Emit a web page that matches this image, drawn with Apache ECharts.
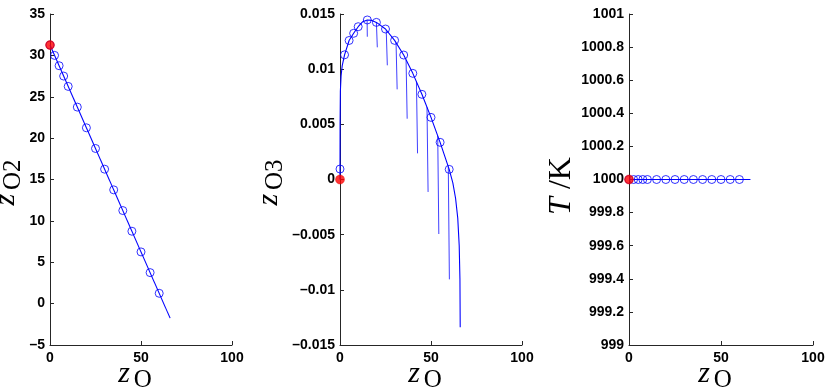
<!DOCTYPE html>
<html>
<head>
<meta charset="utf-8">
<script src="https://cdn.jsdelivr.net/npm/echarts@6/dist/echarts.min.js"></script>
<style>
html, body { margin: 0; padding: 0; background: #fff; }
#main { width: 830px; height: 390px; }
</style>
</head>
<body>
<div id="main"></div>
<script>
// sampled states (open circles)
const markZO = [0, 2.5, 5, 7.5, 10, 15, 20, 25, 30, 35, 40, 45, 50, 55, 60];
const markZO2 = [31.25, 30, 28.75, 27.5, 26.25, 23.75, 21.25, 18.75, 16.25, 13.75, 11.25, 8.75, 6.25, 3.75, 1.25];
const markZO3 = [0.00095, 0.0113, 0.0126, 0.01325, 0.01385, 0.01446, 0.01424, 0.01364, 0.01261, 0.01128, 0.00962, 0.00772, 0.00563, 0.00337, 0.00092];
const markT = [1000, 1000, 1000, 1000, 1000, 1000, 1000, 1000, 1000, 1000, 1000, 1000, 1000, 1000, 1000];

// continuous trajectories
const lineZO2x = [0, 66];
const lineZO2y = [31.25, -1.75];
const curveZOx = [0, 0, 0.05, 0.2, 0.6, 1.2, 2.5, 5, 7.5, 10, 12.5, 15, 17.5, 20, 25, 30, 35, 40, 45, 50, 55, 60, 62, 63.5, 64.7, 65.5, 65.9, 66.05];
const curveZO3y = [0, 0.001, 0.005, 0.008, 0.0094, 0.0103, 0.0113, 0.0126, 0.01325, 0.01385, 0.0143, 0.01446, 0.01442, 0.01424, 0.01364, 0.01261, 0.01128, 0.00962, 0.00772, 0.00563, 0.00337, 0.00092, -0.0003, -0.0017, -0.0035, -0.006, -0.009, -0.0134];
const lineTx = [0, 66];
const lineTy = [1000, 1000];

// short branches hanging off the z_O3 curve
const branchX0 = [14.9, 20.0, 25.4, 30.8, 36.3, 42.0, 47.8, 53.7, 59.5];
const branchY0 = [0.0144, 0.01424, 0.01356, 0.0124, 0.01085, 0.00886, 0.00655, 0.00396, 0.00116];
const branchX1 = [15.0, 20.5, 26.0, 31.4, 36.9, 42.6, 48.4, 54.3, 60.1];
const branchY1 = [0.01294, 0.01198, 0.01035, 0.00817, 0.00551, 0.00237, -0.00113, -0.00494, -0.00905];

// initial state (red dot)
const startZO = 0;
const startZO2 = 31.25;
const startZO3 = 0;
const startT = 1000;

const pairs = (xs, ys) => xs.map((x, i) => [x, ys[i]]);

const axisColor = '#262626';
const serif = 'Liberation Serif';
const tickFont = { fontWeight: 'bold', fontSize: 14, color: '#000', fontFamily: 'Liberation Sans' };

function xAx(idx) {
    return {
        type: 'value', gridIndex: idx, min: 0, max: 100, interval: 50,
        axisLine: { show: true, onZero: false, lineStyle: { color: axisColor } },
        axisTick: { show: true, inside: true, length: 4, lineStyle: { color: axisColor } },
        axisLabel: Object.assign({ margin: 6 }, tickFont),
        splitLine: { show: false },
        name: '{z|z}{s|O}', nameLocation: 'middle', nameGap: 14, nameMoveOverlap: false,
        nameTextStyle: {
            fontFamily: serif, fontStyle: 'italic',
            rich: {
                z: { fontFamily: serif, fontStyle: 'italic', fontSize: 30, lineHeight: 26, verticalAlign: 'top', color: '#000' },
                s: { fontFamily: serif, fontStyle: 'normal', fontSize: 25, lineHeight: 26, verticalAlign: 'top', padding: [9, 12, 0, 4], color: '#000' }
            }
        }
    };
}

function yAx(idx, min, max, interval, name, rich, gap, fmt) {
    return {
        type: 'value', gridIndex: idx, min: min, max: max, interval: interval,
        axisLine: { show: true, onZero: false, lineStyle: { color: axisColor } },
        axisTick: { show: true, inside: true, length: 4, lineStyle: { color: axisColor } },
        axisLabel: Object.assign({ margin: 5, formatter: fmt }, tickFont),
        splitLine: { show: false },
        name: name, nameLocation: 'middle', nameRotate: 90, nameGap: gap,
        nameTextStyle: { fontFamily: serif, fontStyle: 'italic', rich: rich }
    };
}

const subRich = {
    z: { fontFamily: serif, fontStyle: 'italic', fontSize: 30, lineHeight: 26, verticalAlign: 'top', color: '#000' },
    s: { fontFamily: serif, fontStyle: 'normal', fontSize: 25, lineHeight: 26, verticalAlign: 'top', padding: [9, 6, 0, 4], color: '#000' }
};
const tkRich = {
    t: { fontFamily: serif, fontStyle: 'italic', fontSize: 32, lineHeight: 30, color: '#000', padding: [0, 4, 0, 0] },
    k: { fontFamily: serif, fontStyle: 'normal', fontSize: 32, lineHeight: 30, color: '#000', padding: [0, 13, 0, 4] }
};

const dash = s => s.replace('-', '\u2013');

function circles(xi, data) {
    return {
        type: 'scatter', xAxisIndex: xi, yAxisIndex: xi, data: data,
        symbol: 'circle', symbolSize: 8, silent: true, z: 3,
        itemStyle: { color: 'rgba(255,255,255,0)', borderColor: '#0000ff', borderWidth: 1 }
    };
}
function redDot(xi, pt) {
    return {
        type: 'scatter', xAxisIndex: xi, yAxisIndex: xi, data: [pt],
        symbol: 'circle', symbolSize: 9, silent: true, z: 5,
        itemStyle: { color: '#ff0000', borderColor: '#e00000', borderWidth: 0.5 }
    };
}
function line(xi, data, style) {
    return {
        type: 'line', xAxisIndex: xi, yAxisIndex: xi, data: data,
        showSymbol: false, silent: true, z: 2,
        lineStyle: Object.assign({ color: '#0000ff', width: 1.1 }, style || {})
    };
}

const series = [
    line(0, pairs(lineZO2x, lineZO2y)),
    circles(0, pairs(markZO, markZO2)),
    redDot(0, [startZO, startZO2]),
    line(1, pairs(curveZOx, curveZO3y))
];
branchX0.forEach((x, i) => {
    series.push(line(1, [[x, branchY0[i]], [branchX1[i], branchY1[i]]], { width: 1, opacity: 0.75 }));
});
series.push(
    circles(1, pairs(markZO, markZO3)),
    redDot(1, [startZO, startZO3]),
    line(2, pairs(lineTx, lineTy)),
    circles(2, pairs(markZO, markT)),
    redDot(2, [startZO, startT])
);

const chart = echarts.init(document.getElementById('main'));
chart.setOption({
    animation: false,
    backgroundColor: '#fff',
    grid: [
        { left: 50, top: 14, width: 182, height: 331, outerBoundsMode: 'none', containLabel: false },
        { left: 340, top: 14, width: 182, height: 331, outerBoundsMode: 'none', containLabel: false },
        { left: 629, top: 14, width: 184, height: 331, outerBoundsMode: 'none', containLabel: false }
    ],
    xAxis: [xAx(0), xAx(1), xAx(2)],
    yAxis: [
        yAx(0, -5, 35, 5, '{z|z}{s|O2}', subRich, 24, v => dash(String(v))),
        yAx(1, -0.015, 0.015, 0.005, '{z|z}{s|O3}', subRich, 57, v => dash(String(parseFloat(v.toFixed(4))))),
        yAx(2, 999, 1001, 0.2, '{t|T}{k|/K}', tkRich, 52, v => String(parseFloat(v.toFixed(1))))
    ],
    series: series
});
</script>
</body>
</html>
